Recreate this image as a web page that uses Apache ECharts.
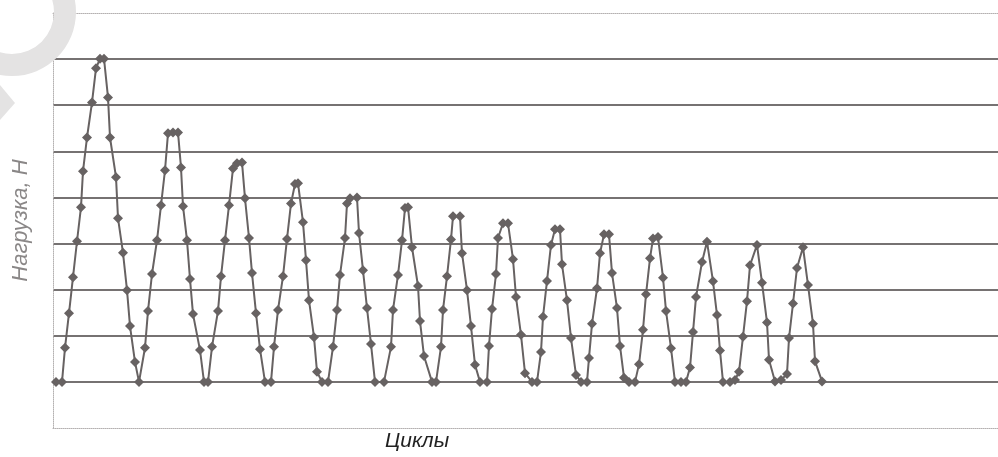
<!DOCTYPE html>
<html>
<head>
<meta charset="utf-8">
<script src="https://cdn.jsdelivr.net/npm/echarts@6/dist/echarts.min.js"></script>
<style>
  html, body { margin: 0; padding: 0; background: #fff; }
  #chart { width: 998px; height: 457px; }
</style>
</head>
<body>
<div id="chart"></div>
<script>
// время (условные ед.) — по одной строке на цикл
const times = [
  3, 9, 12, 16, 20, 24, 28, 30, 34, 39, 43, 47, 51, 55, 57, 63, 65, 70, 74, 77, 82, 86,
  92, 95, 99, 104, 108, 112, 115, 120, 125, 128, 130, 134, 137, 140, 147, 151, 155,
  159, 165, 168, 172, 176, 180, 184, 189, 192, 196, 199, 203, 207, 212, 218,
  221, 225, 230, 234, 238, 242, 245, 250, 253, 256, 261, 264, 269, 275,
  280, 284, 287, 292, 294, 297, 304, 306, 310, 314, 318, 322, 331,
  338, 340, 345, 349, 352, 355, 359, 365, 367, 371, 379, 383,
  388, 390, 394, 398, 400, 407, 409, 414, 418, 422, 427, 434,
  436, 439, 443, 445, 450, 455, 460, 463, 468, 472, 479, 484,
  488, 490, 494, 498, 502, 507, 509, 514, 518, 523, 528, 534,
  536, 539, 544, 547, 551, 556, 559, 564, 567, 571, 576, 582,
  586, 590, 593, 597, 600, 605, 610, 613, 618, 622, 628, 633,
  637, 640, 643, 649, 654, 660, 664, 667, 670, 677, 682,
  686, 690, 694, 697, 704, 709, 714, 716, 722, 728, 734,
  736, 740, 744, 750, 755, 760, 762, 769
];

// нагрузка, Н
const loads = [
  0, 0, 74, 149, 227, 305, 379, 457, 530, 606, 680, 701, 701, 617, 530, 444, 355, 280, 199, 121, 43, 0,
  74, 154, 234, 307, 383, 459, 539, 541, 541, 465, 381, 307, 223, 147, 69, 0, 0,
  76, 154, 229, 307, 383, 463, 474, 476, 398, 312, 236, 149, 71, 0, 0,
  76, 156, 229, 310, 387, 429, 431, 346, 264, 177, 97, 22, 0, 0,
  76, 156, 232, 312, 387, 398, 400, 323, 242, 160, 82, 0, 0,
  76, 156, 232, 307, 377, 379, 292, 208, 132, 56, 0, 0,
  76, 156, 229, 309, 359, 359, 279, 199, 121, 37, 0, 0,
  78, 158, 234, 312, 344, 344, 266, 184, 102, 19, 0, 0,
  65, 141, 219, 297, 331, 331, 255, 177, 95, 15, 0, 0,
  52, 126, 203, 279, 320, 320, 236, 160, 78, 9, 0, 0,
  38, 113, 190, 268, 311, 314, 226, 154, 73, 0, 0, 0,
  31, 108, 184, 260, 304, 218, 145, 68, 0, 0, 4,
  22, 98, 175, 253, 297, 215, 129, 48, 1, 4, 17,
  95, 170, 247, 292, 210, 126, 45, 1
];

const yMin = -100;
const yMax = 800;
const yStep = 100;

const chart = echarts.init(document.getElementById('chart'));

const frameLine = { show: true, onZero: false, lineStyle: { color: '#b4b1b1', width: 1, type: 'dotted' } };
// линии сетки: нижняя и верхняя границы рисуются рамкой
const gridColors = ['rgba(0,0,0,0)', '#767272', '#767272', '#767272', '#767272',
  '#767272', '#767272', '#767272', '#767272', 'rgba(0,0,0,0)'];

chart.setOption({
  backgroundColor: '#ffffff',
  animation: false,
  grid: { left: 53, right: 0, top: 13, bottom: 29 },
  xAxis: [
    {
      type: 'value',
      min: 0,
      max: 945,
      axisLine: frameLine,
      axisTick: { show: false },
      axisLabel: { show: false },
      splitLine: { show: false }
    },
    {
      type: 'value',
      position: 'top',
      min: 0,
      max: 945,
      axisLine: frameLine,
      axisTick: { show: false },
      axisLabel: { show: false },
      splitLine: { show: false }
    }
  ],
  yAxis: {
    type: 'value',
    min: yMin,
    max: yMax,
    interval: yStep,
    name: 'Нагрузка, Н',
    nameLocation: 'middle',
    nameGap: 21,
    nameTextStyle: {
      fontFamily: 'Liberation Sans',
      fontStyle: 'italic',
      fontSize: 22,
      color: '#8a8787'
    },
    axisLine: frameLine,
    axisTick: { show: false },
    axisLabel: { show: false },
    splitLine: { show: true, lineStyle: { color: gridColors, width: 2 } }
  },
  graphic: [
    {
      type: 'ring',
      shape: { cx: 12, cy: 12, r: 64, r0: 42 },
      style: { fill: '#e4e3e3' },
      z: 50
    },
    {
      type: 'polygon',
      shape: { points: [[0, 85], [15, 103], [0, 120]] },
      style: { fill: '#e4e3e3' },
      z: 50
    },
    {
      type: 'text',
      left: 385,
      top: 431,
      style: {
        text: 'Циклы',
        font: 'italic 21px "Liberation Sans"',
        fill: '#222222'
      }
    }
  ],
  series: [
    {
      type: 'line',
      data: times.map((t, i) => [t, loads[i]]),
      symbol: 'diamond',
      symbolSize: 10,
      showAllSymbol: true,
      lineStyle: { color: '#676262', width: 2 },
      itemStyle: { color: '#676262' },
      z: 3
    }
  ]
});
</script>
</body>
</html>
